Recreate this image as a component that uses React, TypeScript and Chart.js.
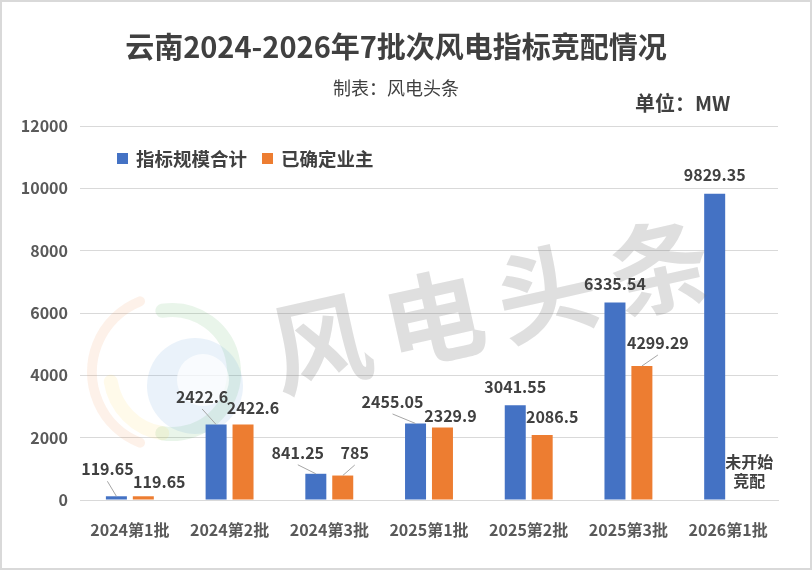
import React, { useEffect, useRef } from 'react';
import { Chart, registerables } from 'chart.js';
Chart.register(...registerables);

const categories = ['2024第1批', '2024第2批', '2024第3批', '2025第1批', '2025第2批', '2025第3批', '2026第1批'];
const totalCapacity = [119.65, 2422.6, 841.25, 2455.05, 3041.55, 6335.54, 9829.35];
const ownerConfirmed: (number | null)[] = [119.65, 2422.6, 785, 2329.9, 2086.5, 4299.29, null];
const seriesNames = ['指标规模合计', '已确定业主'];
const yMin = 0;
const yMax = 12000;
const yStep = 2000;
const titleText = '云南2024-2026年7批次风电指标竞配情况';
const subtitleText = '制表：风电头条';
const unitText = '单位：MW';
const noteLines = ['未开始', '竞配'];
const watermarkText = '风电头条';

// label placement (style only): [dx, dy] relative to bar top centre
const labelOffsets = [
  [[-9, -27], [-14, -27.5], [-18, -21], [-23, -21.5], [0, -18], [0, -18.5], [0, -18.5]],
  [[16, -14], [10, -16.5], [12, -22.5], [8, -11.5], [10, -18], [16, -23], [0, 0]],
];
const leaderLines = [
  [true, true, true, true, false, false, false],
  [false, false, true, false, false, true, false],
];

const COLORS = ['#4472C4', '#ED7D31'];
const FONT = '"Noto Sans CJK SC", "Noto Sans", sans-serif';
const TEXT = '#404040';

const decorPlugin = {
  id: 'decor',
  beforeDraw(chart: any) {
    const ctx = chart.ctx;
    ctx.save();
    ctx.fillStyle = '#ffffff';
    ctx.fillRect(0, 0, chart.width, chart.height);
    ctx.restore();
  },
  beforeDatasetsDraw(chart: any) {
    const ctx = chart.ctx;
    ctx.save();
    // faint watermark logo
    ctx.lineCap = 'round';
    ctx.globalAlpha = 0.12;
    ctx.strokeStyle = '#f08a4b';
    ctx.lineWidth = 10;
    ctx.beginPath();
    ctx.arc(168, 372, 76, Math.PI * 0.62, Math.PI * 1.38);
    ctx.stroke();
    ctx.strokeStyle = '#4caf50';
    ctx.lineWidth = 14;
    ctx.beginPath();
    ctx.arc(172, 372, 62, Math.PI * 1.45, Math.PI * 0.55, false);
    ctx.stroke();
    ctx.strokeStyle = '#ffd54f';
    ctx.beginPath();
    ctx.arc(172, 372, 62, Math.PI * 0.55, Math.PI * 0.95, false);
    ctx.stroke();
    ctx.globalAlpha = 0.13;
    ctx.fillStyle = '#5b9bd5';
    ctx.beginPath();
    ctx.arc(195, 386, 48, 0, Math.PI * 2);
    ctx.fill();
    ctx.globalAlpha = 1;
    ctx.fillStyle = 'rgba(255,255,255,0.7)';
    ctx.beginPath();
    ctx.arc(203, 380, 26, 0, Math.PI * 2);
    ctx.fill();
    ctx.restore();
  },
  afterDatasetsDraw(chart: any) {
    const ctx = chart.ctx;
    ctx.save();
    // watermark text
    ctx.save();
    ctx.translate(490, 305);
    ctx.rotate(-0.22);
    ctx.font = `bold 100px ${FONT}`;
    ctx.fillStyle = 'rgba(110,110,110,0.22)';
    ctx.textAlign = 'center';
    ctx.textBaseline = 'middle';
    const chars = Array.from(watermarkText);
    chars.forEach((c, k) => {
      ctx.fillText(c, (k - (chars.length - 1) / 2) * 116, 0);
    });
    ctx.restore();

    ctx.font = `bold 16px ${FONT}`;
    ctx.textAlign = 'center';
    ctx.textBaseline = 'middle';
    chart.data.datasets.forEach((ds: any, di: number) => {
      const meta = chart.getDatasetMeta(di);
      meta.data.forEach((el: any, i: number) => {
        const v = ds.data[i];
        if (v === null || v === undefined) return;
        const [dx, dy] = labelOffsets[di][i];
        const lx = el.x + dx;
        const ly = el.y + dy;
        if (leaderLines[di][i]) {
          ctx.strokeStyle = '#a6a6a6';
          ctx.lineWidth = 1;
          ctx.beginPath();
          ctx.moveTo(lx, ly + 12);
          ctx.lineTo(el.x, el.y);
          ctx.stroke();
        }
        ctx.fillStyle = TEXT;
        ctx.fillText(String(v), lx, ly);
      });
    });
    // note for the last category
    const xs = chart.scales.x;
    const ys = chart.scales.y;
    const nx = xs.getPixelForValue(categories.length - 1) + 21;
    const ny = ys.getPixelForValue(0);
    ctx.fillText(noteLines[0], nx, ny - 38);
    ctx.fillText(noteLines[1], nx, ny - 19);
    ctx.restore();
  },
  afterDraw(chart: any) {
    const ctx = chart.ctx;
    ctx.save();
    ctx.textAlign = 'center';
    ctx.textBaseline = 'middle';
    ctx.fillStyle = TEXT;
    ctx.font = `bold 29px ${FONT}`;
    ctx.fillText(titleText, 396, 47);
    ctx.font = `18px ${FONT}`;
    ctx.fillText(subtitleText, 396, 88);
    ctx.font = `bold 20px ${FONT}`;
    ctx.textAlign = 'left';
    ctx.fillText(unitText, 635, 103);
    // legend
    const lx = [117, 262];
    seriesNames.forEach((name, k) => {
      ctx.fillStyle = COLORS[k];
      ctx.fillRect(lx[k], 153, 11, 11);
      ctx.fillStyle = TEXT;
      ctx.font = `bold 18.5px ${FONT}`;
      ctx.fillText(name, lx[k] + 19, 159);
    });
    // border
    ctx.strokeStyle = '#d9d9d9';
    ctx.lineWidth = 2;
    ctx.strokeRect(1, 1, chart.width - 2, chart.height - 2);
    ctx.restore();
  },
};

export default function App() {
  const ref = useRef<HTMLCanvasElement>(null);
  useEffect(() => {
    if (!ref.current) return;
    const chart = new Chart(ref.current, {
      type: 'bar',
      data: {
        labels: categories,
        datasets: [
          { label: seriesNames[0], data: totalCapacity, backgroundColor: COLORS[0], categoryPercentage: 0.54, barPercentage: 0.78 },
          { label: seriesNames[1], data: ownerConfirmed, backgroundColor: COLORS[1], categoryPercentage: 0.54, barPercentage: 0.78 },
        ],
      },
      options: {
        responsive: false,
        animation: false,
        devicePixelRatio: 1,
        layout: { padding: { top: 126, right: 34, left: 0, bottom: 0 } },
        plugins: { legend: { display: false }, tooltip: { enabled: false }, title: { display: false } },
        scales: {
          x: {
            grid: { display: false },
            border: { color: '#d9d9d9', width: 1 },
            ticks: { color: '#595959', font: { family: FONT, size: 16, weight: 'bold' }, padding: 12, maxRotation: 0 },
            afterFit: (s: any) => { s.height = 70; },
          },
          y: {
            min: yMin,
            max: yMax,
            grid: { color: '#d9d9d9', drawTicks: false },
            border: { display: false },
            ticks: {
              stepSize: yStep,
              color: '#595959',
              font: { family: FONT, size: 16, weight: 'bold' },
              padding: 12,
              callback: (v: any) => String(v),
            },
            afterFit: (s: any) => { s.width = 80; },
          },
        },
      },
      plugins: [decorPlugin],
    } as any);
    return () => chart.destroy();
  }, []);
  return (
    <div style={{ position: 'absolute', left: 0, top: 0, width: 812, height: 570 }}>
      <canvas ref={ref} width={812} height={570} style={{ width: 812, height: 570, display: 'block' }} />
    </div>
  );
}
